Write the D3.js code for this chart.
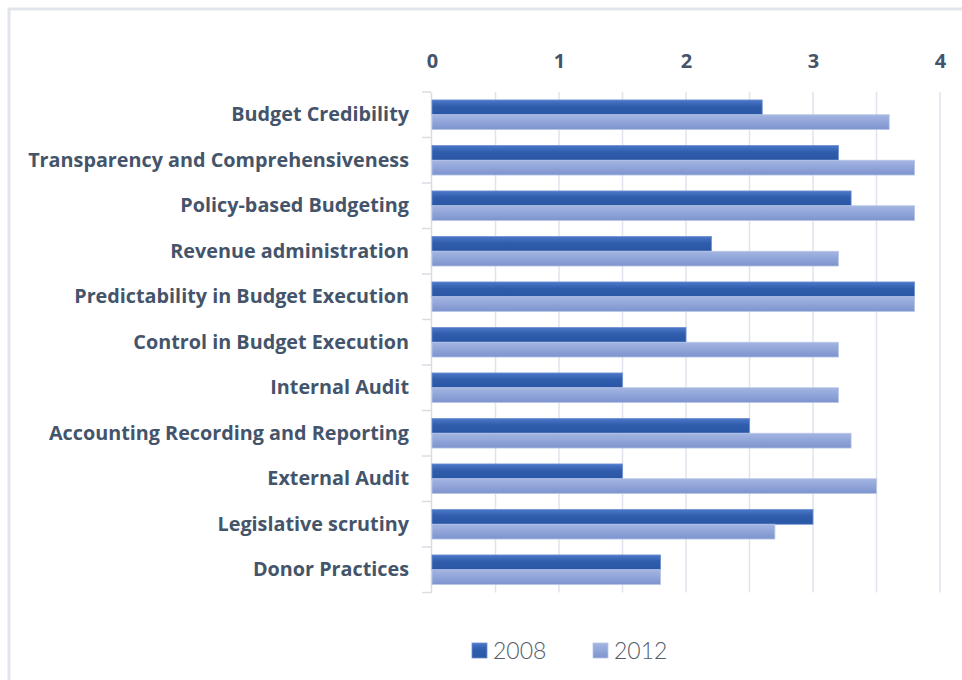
<!DOCTYPE html>
<html>
<head>
<meta charset="utf-8">
<script src="https://cdn.jsdelivr.net/npm/d3@7"></script>
<style>
  html, body { margin: 0; padding: 0; background: #ffffff; }
  svg { display: block; }
</style>
</head>
<body>
<svg id="chart" width="962" height="680"></svg>
<script>
// PEFA dimension scores, 2008 vs 2012
const categories = [
  "Budget Credibility",
  "Transparency and Comprehensiveness",
  "Policy-based Budgeting",
  "Revenue administration",
  "Predictability in Budget Execution",
  "Control in Budget Execution",
  "Internal Audit",
  "Accounting Recording and Reporting",
  "External Audit",
  "Legislative scrutiny",
  "Donor Practices"
];
const seriesNames = ["2008", "2012"];
const values2008 = [2.6, 3.2, 3.3, 2.2, 3.8, 2.0, 1.5, 2.5, 1.5, 3.0, 1.8];
const values2012 = [3.6, 3.8, 3.8, 3.2, 3.8, 3.2, 3.2, 3.3, 3.5, 2.7, 1.8];
const tickValues = [0, 1, 2, 3, 4];
const gridValues = [0.5, 1, 1.5, 2, 2.5, 3, 3.5, 4];

const rows = categories.map((c, i) => ({ category: c, v: [values2008[i], values2012[i]] }));

const svg = d3.select("#chart");
const labelColor = "#44546a";

// outer frame
svg.append("rect")
  .attr("x", 9).attr("y", 9)
  .attr("width", 980).attr("height", 700)
  .attr("fill", "none")
  .attr("stroke", "#e2e5ec")
  .attr("stroke-width", 3);

// gradients for the two series
const defs = svg.append("defs");
const gradStops = [
  [["0%", "#4b78c8"], ["45%", "#2f5cab"], ["100%", "#2a56a6"]],
  [["0%", "#a3b5e0"], ["45%", "#92a6da"], ["100%", "#7d93cd"]]
];
gradStops.forEach((stops, i) => {
  const g = defs.append("linearGradient")
    .attr("id", "grad" + i)
    .attr("x1", 0).attr("y1", 0).attr("x2", 0).attr("y2", 1);
  stops.forEach(s => g.append("stop").attr("offset", s[0]).attr("stop-color", s[1]));
});
const strokeColors = ["#6f8fd0", "#b8c6e8"];

const x = d3.scaleLinear().domain([0, 4]).range([432, 940]);
const y = d3.scaleBand().domain(categories).range([92, 592.5])
  .paddingInner(0.35).paddingOuter(0.175);
const ySub = d3.scaleBand().domain([0, 1]).range([0, y.bandwidth()]);

// vertical gridlines
svg.append("g")
  .selectAll("line")
  .data(gridValues)
  .join("line")
  .attr("x1", d => x(d)).attr("x2", d => x(d))
  .attr("y1", 92).attr("y2", 592.5)
  .attr("stroke", "#dfe3ec")
  .attr("stroke-width", 1.5);

// category axis on the left
const yAxis = d3.axisLeft(y).tickSize(0).tickPadding(22);
const yAxisG = svg.append("g")
  .attr("transform", `translate(${x(0) - 1},0)`)
  .call(yAxis);
yAxisG.select(".domain").attr("stroke", "#d9dce3").attr("stroke-width", 1.5);
yAxisG.selectAll("text")
  .attr("fill", labelColor)
  .attr("font-family", "'Open Sans', sans-serif")
  .attr("font-weight", 700)
  .attr("font-size", "19.8px");

// category separator ticks
const sepValues = [y.range()[0]].concat(categories.map(c => y(c) - y.step() * y.paddingInner() / 2 + y.step()));
svg.append("g")
  .selectAll("line")
  .data(sepValues)
  .join("line")
  .attr("x1", x(0) - 10).attr("x2", x(0) - 1)
  .attr("y1", d => d).attr("y2", d => d)
  .attr("stroke", "#d9dce3")
  .attr("stroke-width", 1.5);

// value axis labels on top
const xAxis = d3.axisTop(x).tickValues(tickValues).tickSize(0).tickPadding(0).tickFormat(d3.format("d"));
const xAxisG = svg.append("g")
  .attr("transform", "translate(0,68)")
  .call(xAxis);
xAxisG.select(".domain").remove();
xAxisG.selectAll("text")
  .attr("fill", labelColor)
  .attr("font-family", "'Open Sans', sans-serif")
  .attr("font-weight", 700)
  .attr("font-size", "20px");

// bars
const rowG = svg.append("g")
  .selectAll("g")
  .data(rows)
  .join("g")
  .attr("transform", d => `translate(0,${y(d.category)})`);

rowG.selectAll("rect")
  .data(d => d.v.map((v, i) => ({ v, i })))
  .join("rect")
  .attr("x", x(0))
  .attr("y", d => ySub(d.i))
  .attr("width", d => x(d.v) - x(0))
  .attr("height", ySub.bandwidth())
  .attr("fill", d => `url(#grad${d.i})`)
  .attr("stroke", d => strokeColors[d.i])
  .attr("stroke-width", 0.8);

// legend
const legendX = [472, 593];
const legend = svg.append("g")
  .selectAll("g")
  .data(seriesNames)
  .join("g")
  .attr("transform", (d, i) => `translate(${legendX[i]},643)`);
legend.append("rect")
  .attr("width", 15).attr("height", 15)
  .attr("fill", (d, i) => `url(#grad${i})`)
  .attr("stroke", (d, i) => strokeColors[i])
  .attr("stroke-width", 0.8);
legend.append("text")
  .attr("x", 21).attr("y", 15.5)
  .attr("fill", "#565c68")
  .attr("font-family", "Lato, sans-serif")
  .attr("font-weight", 300)
  .attr("font-size", "23px")
  .text(d => d);
</script>
</body>
</html>
